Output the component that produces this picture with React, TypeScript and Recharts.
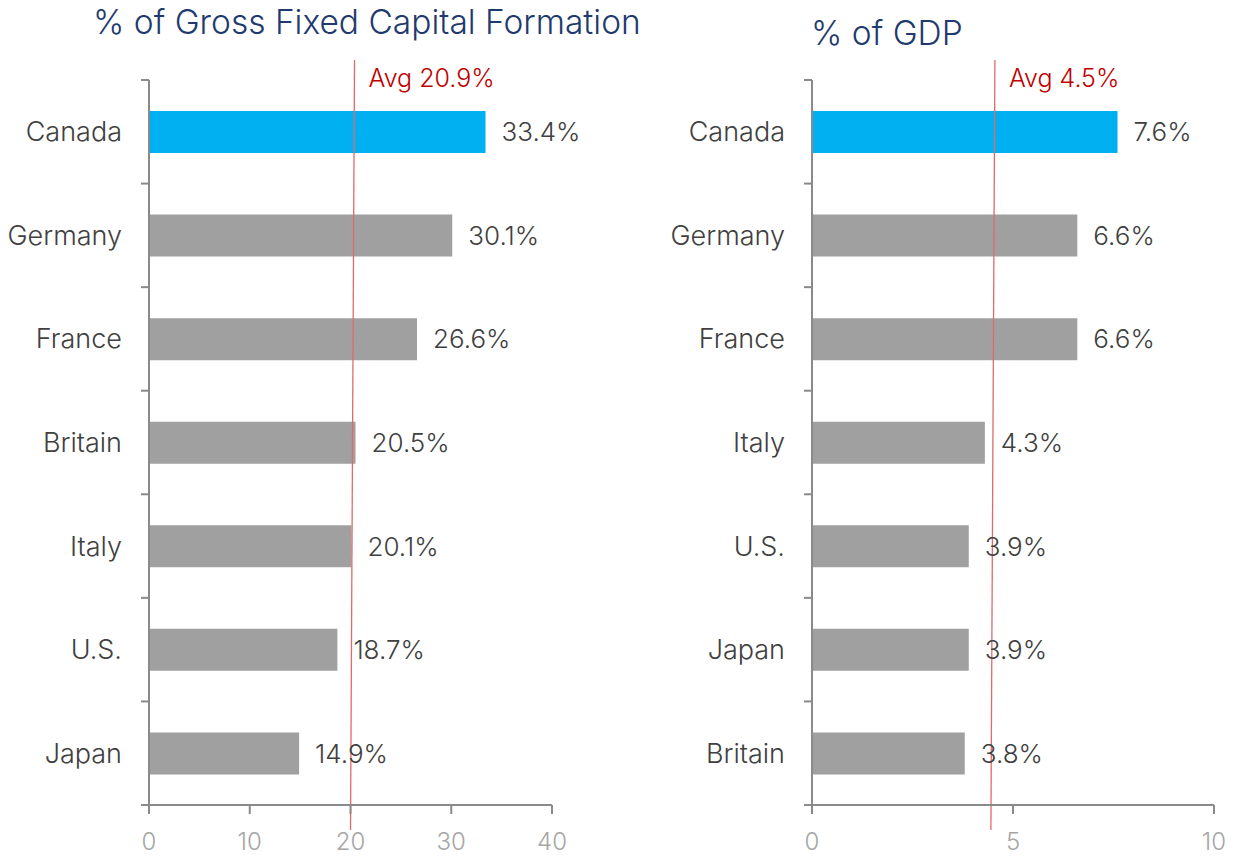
import { Bar, BarChart, Cell, LabelList, ReferenceLine, XAxis, YAxis } from "recharts";

const GFCF_COUNTRIES = ["Canada", "Germany", "France", "Britain", "Italy", "U.S.", "Japan"];
const GFCF_VALUES = [33.4, 30.1, 26.6, 20.5, 20.1, 18.7, 14.9];
const GFCF_TICKS = [0, 10, 20, 30, 40];
const GFCF_AVG_LABEL = "Avg 20.9%";
// the avg line in the picture sits a little left of 20.9
const GFCF_AVG_LINE = 20.2;

const GDP_COUNTRIES = ["Canada", "Germany", "France", "Italy", "U.S.", "Japan", "Britain"];
const GDP_VALUES = [7.6, 6.6, 6.6, 4.3, 3.9, 3.9, 3.8];
const GDP_TICKS = [0, 5, 10];
const GDP_AVG_LABEL = "Avg 4.5%";
const GDP_AVG_LINE = 4.5;

const FONT = "Inter, 'Open Sans', sans-serif";
const WEIGHT = 300;
const AXIS = "#8A8A8A";
const PLOT_TOP = 80;
const PLOT_BOTTOM = 805;

interface PanelProps {
  title: string;
  titleX: number;
  titleY: number;
  countries: string[];
  values: number[];
  ticks: number[];
  avgLine: number;
  avgLabel: string;
  left: number;
  width: number;
  axisWidth: number;
  marginRight: number;
}

function Panel(props: PanelProps) {
  const { countries, values, ticks, axisWidth } = props;
  const data = countries.map((country, i) => ({ country, value: values[i] }));
  const band = (PLOT_BOTTOM - PLOT_TOP) / countries.length;

  const countryTick = (p: any) => (
    <g>
      <text
        x={axisWidth - 27}
        y={p.y}
        textAnchor="end"
        dominantBaseline="central"
        fill="#404040"
        fontSize={27}
        fontWeight={WEIGHT}
        fontFamily={FONT}
      >
        {p.payload.value}
      </text>
      <line x1={axisWidth - 8} x2={axisWidth} y1={p.y - band / 2} y2={p.y - band / 2} stroke={AXIS} strokeWidth={2} />
      {p.index === countries.length - 1 && (
        <line x1={axisWidth - 8} x2={axisWidth} y1={p.y + band / 2} y2={p.y + band / 2} stroke={AXIS} strokeWidth={2} />
      )}
    </g>
  );

  const valueTick = (p: any) => (
    <text
      x={p.x}
      y={PLOT_BOTTOM + 36}
      textAnchor="middle"
      dominantBaseline="central"
      fill="#A6A6A6"
      fontSize={24}
      fontWeight={WEIGHT}
      fontFamily={FONT}
    >
      {p.payload.value}
    </text>
  );

  const avgShape = (p: any) => {
    const top = Math.min(p.y1, p.y2);
    const bottom = Math.max(p.y1, p.y2);
    const x = p.x1;
    return (
      <g>
        <line x1={x + 2} y1={top - 20} x2={x - 2} y2={bottom + 25} stroke="#E06A6A" strokeWidth={1.3} />
        <text
          x={x + 16}
          y={top - 2}
          fill="#C00000"
          fontSize={25}
          fontWeight={WEIGHT}
          fontFamily={FONT}
          dominantBaseline="central"
        >
          {props.avgLabel}
        </text>
      </g>
    );
  };

  return (
    <div style={{ position: "absolute", left: props.left, top: 0 }}>
      <div
        style={{
          position: "absolute",
          left: props.titleX - props.left,
          top: props.titleY - 20,
          lineHeight: "40px",
          fontSize: 33.5,
          fontWeight: WEIGHT,
          fontFamily: FONT,
          color: "#1F3A6E",
          whiteSpace: "nowrap",
        }}
      >
        {props.title}
      </div>
      <BarChart
        width={props.width}
        height={856}
        data={data}
        layout="vertical"
        margin={{ top: PLOT_TOP, right: props.marginRight, bottom: 1, left: 0 }}
      >
        <XAxis
          type="number"
          domain={[ticks[0], ticks[ticks.length - 1]]}
          ticks={ticks}
          height={50}
          axisLine={{ stroke: AXIS, strokeWidth: 2 }}
          tickLine={{ stroke: AXIS, strokeWidth: 2 }}
          tickSize={9}
          tick={valueTick}
        />
        <YAxis
          type="category"
          dataKey="country"
          width={axisWidth}
          axisLine={{ stroke: AXIS, strokeWidth: 2 }}
          tickLine={false}
          tick={countryTick}
          interval={0}
        />
        <Bar dataKey="value" barSize={42} isAnimationActive={false}>
          {data.map((d) => (
            <Cell key={d.country} fill={d.country === "Canada" ? "#00B0F0" : "#A0A0A0"} />
          ))}
          <LabelList
            dataKey="value"
            position="right"
            offset={16}
            fill="#404040"
            fontSize={26}
            fontWeight={WEIGHT}
            fontFamily={FONT}
            formatter={(v: any) => `${Number(v).toFixed(1)}%`}
          />
        </Bar>
        <ReferenceLine x={props.avgLine} shape={avgShape} />
      </BarChart>
    </div>
  );
}

export default function App() {
  return (
    <div style={{ position: "absolute", left: 0, top: 0, width: 1241, height: 856, background: "#fff" }}>
      <Panel
        title="% of Gross Fixed Capital Formation"
        titleX={93}
        titleY={22}
        countries={GFCF_COUNTRIES}
        values={GFCF_VALUES}
        ticks={GFCF_TICKS}
        avgLine={GFCF_AVG_LINE}
        avgLabel={GFCF_AVG_LABEL}
        left={0}
        width={620}
        axisWidth={149}
        marginRight={68}
      />
      <Panel
        title="% of GDP"
        titleX={811}
        titleY={33}
        countries={GDP_COUNTRIES}
        values={GDP_VALUES}
        ticks={GDP_TICKS}
        avgLine={GDP_AVG_LINE}
        avgLabel={GDP_AVG_LABEL}
        left={620}
        width={621}
        axisWidth={192}
        marginRight={27}
      />
    </div>
  );
}
